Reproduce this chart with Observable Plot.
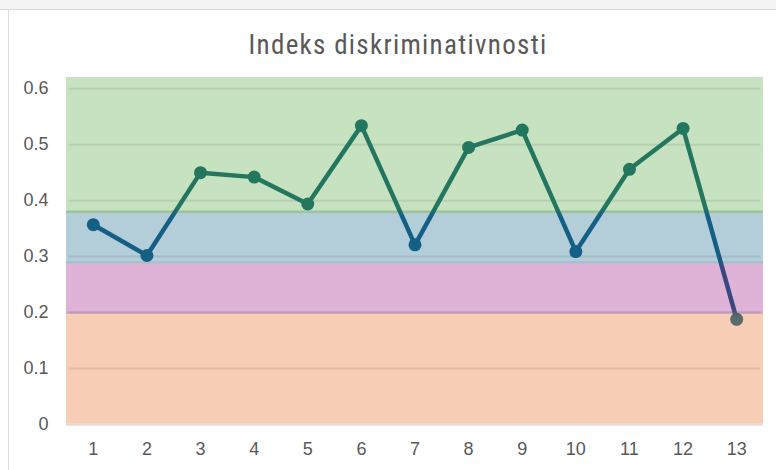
<!DOCTYPE html>
<html><head><meta charset="utf-8">
<script src="https://cdn.jsdelivr.net/npm/d3@7"></script>
<script src="https://cdn.jsdelivr.net/npm/@observablehq/plot@0.6"></script>
<style>
html,body{margin:0;padding:0;background:#fff}
body{width:776px;height:470px;overflow:hidden;position:relative;font-family:"Liberation Sans",Arial,sans-serif}
#strip{position:absolute;left:0;top:0;width:776px;height:9px;background:#f3f3f3;border-bottom:1px solid #dcdcdc}
#frame{position:absolute;left:8px;top:10px;width:1px;height:460px;background:#dcdcdc}
#title{position:absolute;left:10px;top:27px;width:776px;text-align:center;font-family:"Liberation Sans Narrow","Roboto Condensed","DejaVu Sans Condensed","Liberation Sans",sans-serif;font-size:27px;line-height:36px;color:#595959;white-space:nowrap}
#title span{display:inline-block}
#chart{position:absolute;left:0;top:60px}
</style>
</head><body>
<div id="strip"></div><div id="frame"></div>
<div id="title"><span id="tt">Indeks diskriminativnosti</span></div>
<div id="chart"></div>
<script>
const items = [1,2,3,4,5,6,7,8,9,10,11,12,13];
const values = [0.357,0.302,0.45,0.442,0.394,0.534,0.321,0.495,0.526,0.309,0.456,0.529,0.188];
const yTicks = [0,0.1,0.2,0.3,0.4,0.5,0.6];
const bandLow = [0,0.2,0.29,0.38];
const bandHigh = [0.2,0.29,0.38,0.62];
const bandFill = ["#f7cdb6","#dfb3d7","#b3cdd9","#c7e2c0"];
const bandEdge = ["#ebdcd3","#d0a6c8","#a6c0cd","#9ec29a"];
const bandLine = ["#5b6a6a","#3a4880","#135f86","#24775f"];

const data = items.map((d,i)=>({item:d, value:values[i]}));
const bands = bandLow.map((d,i)=>({lo:d, hi:bandHigh[i], fill:bandFill[i], edge:bandEdge[i]}));
const fontFam = '"Liberation Sans",Arial,sans-serif';

const plot = Plot.plot({
  width: 776, height: 410,
  marginLeft: 66, marginRight: 13, marginTop: 17, marginBottom: 46,
  style: {fontFamily: fontFam, color:"#595959", background:"transparent"},
  x: {domain:[0.5,13.5], label:null},
  y: {domain:[0,0.62], label:null},
  marks: [
    Plot.rectY(bands, {x1:0.5, x2:13.5, y1:"lo", y2:"hi", fill:"fill"}),
    Plot.ruleY(bands, {x1:0.5, x2:13.5, y:"lo", stroke:"edge", strokeWidth:2.5}),
    Plot.ruleY(yTicks.filter(v=>v>0), {x1:0.55, x2:13.45, stroke:"#000", strokeOpacity:0.08, strokeWidth:2}),
    Plot.axisX(items, {tickSize:0, tickPadding:18, fontSize:18, label:null, tickFormat: d=>String(d)}),
    Plot.axisY(yTicks, {tickSize:0, tickPadding:18, fontSize:18, label:null, tickFormat: d=> d===0 ? "0" : d3.format(".1f")(d)}),
    Plot.line(data, {x:"item", y:"value", stroke:"url(#lineGrad)", strokeWidth:4.5, strokeLinejoin:"round"}),
    Plot.dot(data, {x:"item", y:"value", r:6.5, fill:"url(#lineGrad)", stroke:"none"})
  ]
});
document.getElementById("chart").appendChild(plot);

const yScale = plot.scale("y");
const yTop = yScale.apply(0.62), yBot = yScale.apply(0);
const off = v => (yScale.apply(v) - yTop) / (yBot - yTop);
const svg = d3.select(plot);
const grad = svg.insert("defs", ":first-child").append("linearGradient")
  .attr("id","lineGrad").attr("gradientUnits","userSpaceOnUse")
  .attr("x1",0).attr("x2",0).attr("y1",yTop).attr("y2",yBot);
const stops = [];
stops.push([0, bandLine[3]]);
for (let i = 3; i > 0; i--) {
  const b = bandLow[i];
  stops.push([off(b + 0.008), bandLine[i]]);
  stops.push([off(b - 0.008), bandLine[i-1]]);
}
stops.push([1, bandLine[0]]);
stops.forEach(([o,c]) => grad.append("stop").attr("offset", o).attr("stop-color", c));

// fit title width to the reference (~299px)
const tt = document.getElementById("tt");
const w = tt.getBoundingClientRect().width;
const n = tt.textContent.length;
tt.style.letterSpacing = ((299 - w) / n) + "px";
</script>
</body></html>
